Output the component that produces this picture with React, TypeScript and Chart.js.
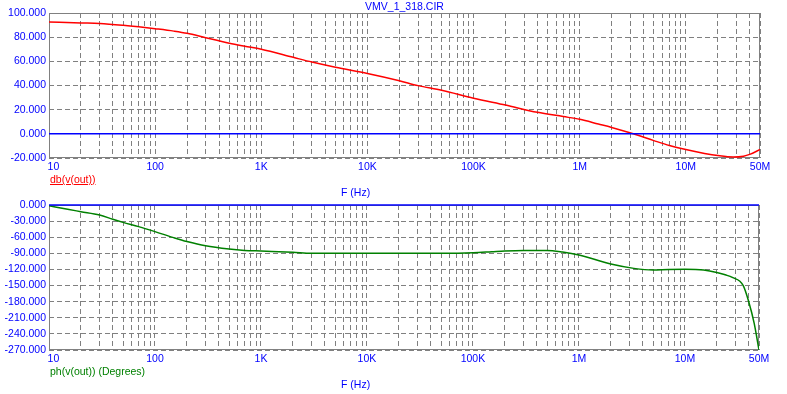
import React, { useEffect, useRef } from "react";
import { Chart, registerables } from "chart.js";

Chart.register(...registerables);

// ---- data ----
const gainFreq = [10, 20, 30, 50, 70, 100, 150, 200, 300, 500, 700, 1000, 2000, 3000, 5000, 10000, 20000, 30000, 50000, 100000, 200000, 400000, 700000, 1e6, 1.5e6, 2e6, 3.2e6, 5e6, 7e6, 1e7, 1.5e7, 2e7, 2.8e7, 3.5e7, 4e7, 5e7];
const gainDb = [92.5, 91.8, 91.4, 89.9, 88.6, 87, 85, 83.2, 79.5, 75, 72.5, 70, 63.3, 59.4, 55.1, 50, 44, 39.9, 36.1, 29.5, 23.8, 17.8, 14.3, 12, 8.1, 5.3, 0, -5.6, -9.6, -13, -16.2, -18, -19.2, -18.5, -17, -13];

const phaseFreq = [10, 15, 20, 30, 40, 50, 70, 100, 150, 200, 300, 500, 700, 1000, 2000, 3000, 10000, 50000, 100000, 150000, 200000, 300000, 500000, 700000, 1e6, 2e6, 3.3e6, 5e6, 7e6, 1e7, 1.5e7, 2e7, 2.4e7, 2.8e7, 3.55e7, 4e7, 4.5e7, 5e7];
const phaseDeg = [-1.3, -8, -12.4, -18.6, -26.5, -32.3, -40.3, -49.6, -60.8, -68, -76, -82, -84.5, -85.7, -88, -90, -90, -90, -89, -87, -85.5, -84.5, -84.5, -87.5, -93, -110, -118, -121, -120, -119.7, -121, -125.5, -130, -134.8, -150, -180, -220, -270];

const zeroLineFreq = [10, 5e7];
const zeroLineVal = [0, 0];

const xTickValues = [10, 100, 1000, 10000, 100000, 1e6, 1e7, 5e7];
const xTickLabels = ["   10", "100", "1K", "10K", "100K", "1M", "10M", "50M"];
const gridMultipliers = [1, 2, 3, 4, 5, 6, 7, 8, 9];
const gridDecades = [10, 100, 1000, 10000, 100000, 1e6, 1e7];

const chartTitle = "VMV_1_318.CIR";
const xAxisTitle = "F (Hz)";
const topTraceLabel = "db(v(out))";
const bottomTraceLabel = "ph(v(out)) (Degrees)";

const FONT = '"Liberation Sans", Arial, sans-serif';
const BLUE = "#0000FF";
const GRID = "#808080";

function gridValues(): number[] {
  const out: number[] = [];
  for (const d of gridDecades) for (const m of gridMultipliers) out.push(d * m);
  for (const m of [1, 2, 3, 4, 5]) {
    const v = 1e7 * m;
    if (!out.includes(v)) out.push(v);
  }
  return out.filter((v) => v <= 5e7);
}

const borderPlugin = {
  id: "plotBorder",
  beforeDatasetsDraw(chart: any) {
    const { ctx, chartArea } = chart;
    ctx.save();
    ctx.strokeStyle = GRID;
    ctx.lineWidth = 1;
    ctx.setLineDash([]);
    const l = Math.round(chartArea.left) + 0.5;
    const t = Math.round(chartArea.top) + 0.5;
    const r = Math.round(chartArea.right) - 0.5;
    const b = Math.round(chartArea.bottom) - 0.5;
    ctx.strokeRect(l, t, r - l, b - t);
    ctx.restore();
  },
};

function makeConfig(opts: {
  xs: number[];
  ys: number[];
  color: string;
  yMin: number;
  yMax: number;
  yStep: number;
  padTop: number;
  padRight: number;
  xAxisHeight: number;
}): any {
  const grid = gridValues();
  return {
    type: "line",
    data: {
      datasets: [
        {
          data: zeroLineFreq.map((x, i) => ({ x, y: zeroLineVal[i] })),
          borderColor: BLUE,
          borderWidth: 1.5,
          pointRadius: 0,
          clip: false,
        },
        {
          data: opts.xs.map((x, i) => ({ x, y: opts.ys[i] })),
          borderColor: opts.color,
          borderWidth: 1.5,
          pointRadius: 0,
          cubicInterpolationMode: "monotone",
        },
      ],
    },
    options: {
      animation: false,
      responsive: false,
      devicePixelRatio: 1,
      layout: { padding: { left: 0, right: opts.padRight, top: opts.padTop, bottom: 0 } },
      plugins: { legend: { display: false }, tooltip: { enabled: false }, title: { display: false } },
      scales: {
        x: {
          type: "logarithmic",
          min: 10,
          max: 5e7,
          afterBuildTicks(scale: any) {
            scale.ticks = grid.map((v) => ({ value: v }));
          },
          afterFit(scale: any) {
            scale.height = opts.xAxisHeight;
          },
          ticks: {
            autoSkip: false,
            maxRotation: 0,
            minRotation: 0,
            padding: 3,
            color: BLUE,
            font: { family: FONT, size: 10.5 },
            callback(value: any) {
              const idx = xTickValues.findIndex((t) => Math.abs(t - Number(value)) / t < 1e-6);
              return idx >= 0 ? xTickLabels[idx] : "";
            },
          },
          grid: { color: GRID, lineWidth: 1, drawTicks: false },
          border: { display: false, dash: [5, 3] },
        },
        y: {
          type: "linear",
          min: opts.yMin,
          max: opts.yMax,
          afterFit(scale: any) {
            scale.width = 49;
          },
          ticks: {
            stepSize: opts.yStep,
            padding: 3,
            color: BLUE,
            font: { family: FONT, size: 10.5 },
            callback(value: any) {
              return Number(value).toFixed(3);
            },
          },
          grid: { color: GRID, lineWidth: 1, drawTicks: false },
          border: { display: false, dash: [5, 3] },
        },
      },
    },
    plugins: [borderPlugin],
  };
}

const textStyle = (extra: React.CSSProperties): React.CSSProperties => ({
  position: "absolute",
  fontFamily: FONT,
  fontSize: "10.5px",
  lineHeight: "12px",
  whiteSpace: "nowrap",
  ...extra,
});

export default function App() {
  const topRef = useRef<HTMLCanvasElement>(null);
  const botRef = useRef<HTMLCanvasElement>(null);

  useEffect(() => {
    const c1 = new Chart(
      topRef.current!,
      makeConfig({ xs: gainFreq, ys: gainDb, color: "#FF0000", yMin: -20, yMax: 100, yStep: 20, padTop: 13, padRight: 27, xAxisHeight: 32 })
    );
    const c2 = new Chart(
      botRef.current!,
      makeConfig({ xs: phaseFreq, ys: phaseDeg, color: "#008000", yMin: -270, yMax: 0, yStep: 30, padTop: 15, padRight: 28, xAxisHeight: 44 })
    );
    return () => {
      c1.destroy();
      c2.destroy();
    };
  }, []);

  return (
    <div style={{ position: "fixed", left: 0, top: 0, width: 787, height: 394, background: "#fff", overflow: "hidden" }}>
      <canvas ref={topRef} width={787} height={190} style={{ position: "absolute", left: 0, top: 0, width: 787, height: 190 }} />
      <canvas ref={botRef} width={787} height={204} style={{ position: "absolute", left: 0, top: 190, width: 787, height: 204 }} />
      <div style={textStyle({ left: 0, width: 809, top: 0, textAlign: "center", color: BLUE })}>{chartTitle}</div>
      <div style={textStyle({ left: 50, top: 173, color: "#FF0000", textDecoration: "underline" })}>{topTraceLabel}</div>
      <div style={textStyle({ left: 341, top: 186, color: BLUE })}>{xAxisTitle}</div>
      <div style={textStyle({ left: 50, top: 365, color: "#008000" })}>{bottomTraceLabel}</div>
      <div style={textStyle({ left: 341, top: 378, color: BLUE })}>{xAxisTitle}</div>
    </div>
  );
}
